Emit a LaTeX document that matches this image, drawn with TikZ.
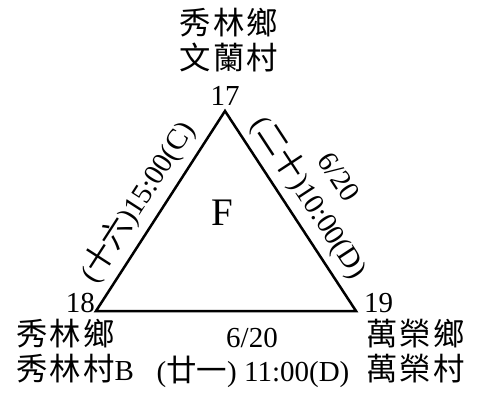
\documentclass[tikz,border=0pt]{standalone}
\usepackage{fontspec}
\setmainfont{Liberation Serif}
\newfontfamily\cjk[LetterSpace=7,Scale=1.08]{Noto Sans CJK TC}
\newfontfamily\cjkn[Scale=1.05]{Noto Sans CJK TC}
\begin{document}
\begin{tikzpicture}[x=1pt,y=1pt,
  lbl/.style={inner sep=0pt,font=\fontsize{29}{34}\selectfont},
  edge/.style={line width=2.5pt,line join=miter}]
\useasboundingbox (0,0) rectangle (487,392);
\coordinate (v17) at (225,281);
\coordinate (v18) at (96,81);
\coordinate (v19) at (356,81);
\draw[edge] (v17) -- (v18) -- (v19) -- cycle;
% vertex numbers
\node[lbl,anchor=base] (n17) at (225,287) {17};
\node[lbl,anchor=base east] (n18) at (95,80) {18};
\node[lbl,anchor=base west] (n19) at (364,80) {19};
% top place
\node[lbl,anchor=base] (t1) at (229,358) {\cjk 秀林鄉};
\node[lbl,anchor=base] (t2) at (229,323) {\cjk 文蘭村};
% bottom left place
\node[lbl,anchor=base west] (bl1) at (16,47) {\cjk 秀林鄉};
\node[lbl,anchor=base west] (bl2) at (16,12) {{\cjk 秀林村}B};
% bottom right place
\node[lbl,anchor=base west] (br1) at (366,47) {\cjk 萬榮鄉};
\node[lbl,anchor=base west] (br2) at (366,12) {\cjk 萬榮村};
% bottom edge label
\node[lbl,anchor=base] (e1a) at (252,45) {6/20};
\node[lbl,anchor=base] (e1b) at (253,11) {({\cjkn 廿一}) 11:00(D)};
% left edge label
\node[lbl,rotate=57.2] (e2) at (137,190) {({\cjkn 十六})15:00(C)};
% right edge labels
\node[lbl,rotate=-56.8] (e3b) at (310,195) {({\cjkn 二十})10:00(D)};
\node[lbl,rotate=-56.8] (e3a) at (339,215) {6/20};
% face label
\node[inner sep=0pt,font=\fontsize{39}{44}\selectfont] (F) at (222,179) {F};
\end{tikzpicture}
\end{document}
